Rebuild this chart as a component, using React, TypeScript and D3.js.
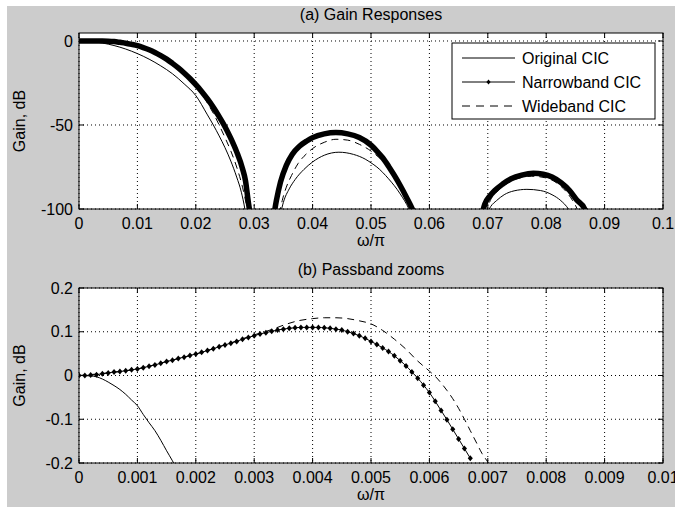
import React from "react";
import * as d3 from "d3";

// ---------- Data ----------
// Top plot: gain responses, x = ω/π, y = dB
const origMain: [number, number][] = [
  [0, 0], [0.002, -0.3], [0.004, -1.2], [0.006, -2.7], [0.008, -4.8], [0.01, -7.5],
  [0.012, -10.8], [0.014, -14.8], [0.016, -19.5], [0.018, -25.5], [0.02, -32.5],
  [0.022, -44], [0.023, -50], [0.024, -56.5], [0.025, -63.5], [0.026, -71.5],
  [0.027, -81], [0.0278, -90], [0.0284, -100], [0.029, -115],
];
const origLobe2: [number, number][] = [
  [0.0345, -103], [0.035, -96], [0.036, -88], [0.037, -82.5], [0.0385, -76.5],
  [0.04, -72], [0.042, -68], [0.0445, -66.2], [0.047, -67.5], [0.049, -70.3],
  [0.05, -72.5], [0.051, -75], [0.053, -82], [0.055, -91], [0.0565, -100], [0.057, -104],
];
const origLobe3: [number, number][] = [
  [0.0698, -103], [0.0705, -98.5], [0.0715, -95], [0.0728, -91.5], [0.0745, -89.2],
  [0.0767, -88.3], [0.079, -89], [0.081, -91.5], [0.0825, -95], [0.0838, -100], [0.0843, -103],
];
const narrowMain: [number, number][] = [
  [0, 0], [0.002, 0], [0.004, 0], [0.005, -0.1], [0.006, -0.35], [0.007, -0.8],
  [0.008, -1.3], [0.009, -2], [0.01, -2.8], [0.011, -3.9], [0.012, -5.2], [0.013, -6.8],
  [0.014, -8.7], [0.015, -10.8], [0.016, -13.3], [0.017, -16], [0.018, -19],
  [0.019, -22.3], [0.02, -26], [0.021, -30], [0.022, -34.5], [0.023, -39.5],
  [0.024, -45], [0.025, -51], [0.026, -58], [0.027, -66], [0.028, -76], [0.0285, -83],
  [0.029, -96], [0.0293, -103],
];
const narrowLobe2: [number, number][] = [
  [0.0334, -103], [0.0338, -95], [0.0345, -84], [0.0355, -74], [0.0365, -67.5],
  [0.0378, -62.5], [0.039, -59.5], [0.04, -57.5], [0.042, -55.3], [0.044, -54.5],
  [0.046, -55.3], [0.048, -57.5], [0.05, -62], [0.051, -65.5], [0.052, -69.5],
  [0.053, -74.5], [0.054, -80], [0.055, -86], [0.056, -92.5], [0.057, -99.5], [0.0574, -103],
];
const narrowLobe3: [number, number][] = [
  [0.069, -103], [0.0695, -97], [0.0703, -92.5], [0.0712, -89], [0.0725, -85.3],
  [0.074, -82], [0.0758, -79.8], [0.0778, -78.7], [0.0795, -79.3], [0.081, -81],
  [0.0826, -84.5], [0.084, -89], [0.0852, -94.5], [0.0866, -100], [0.087, -104],
];
const wideMain: [number, number][] = [
  [0, 0], [0.004, -0.4], [0.006, -1], [0.008, -2], [0.01, -3.7], [0.012, -6.2],
  [0.014, -9.5], [0.016, -14], [0.018, -19.5], [0.02, -26.5], [0.022, -37],
  [0.023, -43], [0.024, -50], [0.025, -57.5], [0.026, -65.5], [0.027, -75],
  [0.028, -87], [0.0288, -100], [0.0293, -110],
];
const wideLobe2: [number, number][] = [
  [0.0343, -103], [0.0348, -95], [0.0355, -87], [0.0364, -80], [0.0375, -73],
  [0.039, -67], [0.04, -64], [0.042, -60.3], [0.044, -58.5], [0.046, -59],
  [0.048, -61.5], [0.05, -65.5], [0.052, -71.5], [0.054, -80], [0.056, -92],
  [0.0568, -100], [0.0572, -104],
];
const wideLobe3: [number, number][] = [
  [0.0697, -103], [0.0703, -96], [0.0715, -90], [0.073, -85.5], [0.075, -82],
  [0.0775, -80.5], [0.08, -81.5], [0.082, -85], [0.0835, -90], [0.0847, -96],
  [0.0853, -100], [0.0857, -104],
];

// Bottom plot: passband zoom
const zoomOrig: [number, number][] = [
  [0, 0], [0.0002, -0.001], [0.0003, -0.003], [0.0004, -0.008], [0.0005, -0.015],
  [0.0006, -0.023], [0.0007, -0.032], [0.0008, -0.043], [0.0009, -0.056], [0.001, -0.069],
  [0.0011, -0.089], [0.0012, -0.108], [0.0013, -0.126], [0.0014, -0.148],
  [0.0015, -0.172], [0.0016, -0.195], [0.0017, -0.22],
];
const zoomNarrowX: number[] = d3.range(0, 68).map((i) => i / 10000);
const zoomNarrowY: number[] = [
  0.0, 0.0, 0.001, 0.002, 0.004, 0.006, 0.008, 0.009, 0.011, 0.013,
  0.015, 0.018, 0.021, 0.024, 0.028, 0.032, 0.035, 0.039, 0.042, 0.046,
  0.049, 0.053, 0.057, 0.061, 0.066, 0.07, 0.074, 0.078, 0.083, 0.087,
  0.091, 0.095, 0.098, 0.101, 0.104, 0.106, 0.108, 0.109, 0.11, 0.11,
  0.11, 0.11, 0.109, 0.108, 0.106, 0.104, 0.1, 0.096, 0.091, 0.085,
  0.078, 0.071, 0.063, 0.055, 0.045, 0.034, 0.022, 0.008, -0.006, -0.022,
  -0.039, -0.059, -0.08, -0.101, -0.123, -0.145, -0.167, -0.189,
];
const zoomWide: [number, number][] = [
  [0, 0], [0.0005, 0.006], [0.001, 0.015], [0.0015, 0.032], [0.002, 0.049],
  [0.0025, 0.07], [0.003, 0.093], [0.0033, 0.105], [0.0035, 0.115], [0.00375, 0.125],
  [0.004, 0.13], [0.0042, 0.132], [0.0044, 0.132], [0.0046, 0.13], [0.0048, 0.125],
  [0.005, 0.118], [0.0052, 0.103], [0.0054, 0.083], [0.0056, 0.06], [0.0058, 0.033],
  [0.006, 0.01], [0.0061, -0.002], [0.0062, -0.017], [0.0063, -0.034], [0.0064, -0.053],
  [0.0065, -0.075], [0.0066, -0.1], [0.0067, -0.126], [0.0068, -0.152], [0.0069, -0.178],
  [0.007, -0.198], [0.00705, -0.21],
];

const topXTicks = [0, 0.01, 0.02, 0.03, 0.04, 0.05, 0.06, 0.07, 0.08, 0.09, 0.1];
const topXLabels = ["0", "0.01", "0.02", "0.03", "0.04", "0.05", "0.06", "0.07", "0.08", "0.09", "0.1"];
const topYTicks = [0, -50, -100];
const topYLabels = ["0", "-50", "-100"];
const botXTicks = [0, 0.001, 0.002, 0.003, 0.004, 0.005, 0.006, 0.007, 0.008, 0.009, 0.01];
const botXLabels = ["0", "0.001", "0.002", "0.003", "0.004", "0.005", "0.006", "0.007", "0.008", "0.009", "0.01"];
const botYTicks = [0.2, 0.1, 0, -0.1, -0.2];
const botYLabels = ["0.2", "0.1", "0", "-0.1", "-0.2"];
const legendLabels = ["Original CIC", "Narrowband CIC", "Wideband CIC"];

// ---------- Layout ----------
const W = 675;
const H = 507;
const FONT = "'Liberation Sans', Arial, Helvetica, sans-serif";
const FS = 16;
const BG = "#cccccc";

const topBox = { x0: 79, x1: 663, y0: 33, y1: 209 };
const botBox = { x0: 79, x1: 663, y0: 288, y1: 463 };

const xTop = d3.scaleLinear().domain([0, 0.1]).range([topBox.x0, topBox.x1]);
const yTop = d3.scaleLinear().domain([-100, 4.76]).range([topBox.y1, topBox.y0]);
const xBot = d3.scaleLinear().domain([0, 0.01]).range([botBox.x0, botBox.x1]);
const yBot = d3.scaleLinear().domain([-0.2, 0.2]).range([botBox.y1, botBox.y0]);

function Axes(props: {
  box: { x0: number; x1: number; y0: number; y1: number };
  xs: d3.ScaleLinear<number, number>;
  ys: d3.ScaleLinear<number, number>;
  xt: number[];
  xl: string[];
  yt: number[];
  yl: string[];
  title: string;
  clipId: string;
  children?: React.ReactNode;
}) {
  const { box, xs, ys, xt, xl, yt, yl, title, clipId } = props;
  const tl = 5;
  return (
    <g>
      <defs>
        <clipPath id={clipId}>
          <rect x={box.x0} y={box.y0} width={box.x1 - box.x0} height={box.y1 - box.y0} />
        </clipPath>
      </defs>
      <rect x={box.x0} y={box.y0} width={box.x1 - box.x0} height={box.y1 - box.y0} fill="#fff" />
      {xt.map((t, i) => (
        <line key={"gx" + i} x1={xs(t)} x2={xs(t)} y1={box.y0} y2={box.y1}
          stroke="#000" strokeWidth={1} strokeDasharray="1,3" />
      ))}
      {yt.map((t, i) => (
        <line key={"gy" + i} x1={box.x0} x2={box.x1} y1={ys(t)} y2={ys(t)}
          stroke="#000" strokeWidth={1} strokeDasharray="1,3" />
      ))}
      <g clipPath={`url(#${clipId})`}>{props.children}</g>
      {xt.map((t, i) => (
        <g key={"tx" + i}>
          <line x1={xs(t)} x2={xs(t)} y1={box.y1} y2={box.y1 - tl} stroke="#000" />
          <line x1={xs(t)} x2={xs(t)} y1={box.y0} y2={box.y0 + tl} stroke="#000" />
          <text x={xs(t)} y={box.y1 + 20} textAnchor="middle" fontSize={FS} fontFamily={FONT}>{xl[i]}</text>
        </g>
      ))}
      {yt.map((t, i) => (
        <g key={"ty" + i}>
          <line x1={box.x0} x2={box.x0 + tl} y1={ys(t)} y2={ys(t)} stroke="#000" />
          <line x1={box.x1} x2={box.x1 - tl} y1={ys(t)} y2={ys(t)} stroke="#000" />
          <text x={box.x0 - 6} y={ys(t)} dy="0.35em" textAnchor="end" fontSize={FS} fontFamily={FONT}>{yl[i]}</text>
        </g>
      ))}
      <rect x={box.x0} y={box.y0} width={box.x1 - box.x0} height={box.y1 - box.y0}
        fill="none" stroke="#000" strokeWidth={1} />
      <text x={(box.x0 + box.x1) / 2} y={box.y0 - 13} textAnchor="middle" fontSize={FS} fontFamily={FONT}>{title}</text>
      <text x={(box.x0 + box.x1) / 2} y={box.y1 + 37} textAnchor="middle" fontSize={FS} fontFamily={FONT}>ω/π</text>
      <text transform={`translate(19,${(box.y0 + box.y1) / 2}) rotate(-90)`} dy="0.35em"
        textAnchor="middle" fontSize={FS} fontFamily={FONT}>Gain, dB</text>
    </g>
  );
}

const diamond = (cx: number, cy: number, r: number) =>
  `M${cx},${cy - r}L${cx + r * 0.85},${cy}L${cx},${cy + r}L${cx - r * 0.85},${cy}Z`;

export default function App() {
  const lineTop = d3.line<[number, number]>().x((d) => xTop(d[0])).y((d) => yTop(d[1])).curve(d3.curveMonotoneX);
  const lineBot = d3.line<[number, number]>().x((d) => xBot(d[0])).y((d) => yBot(d[1])).curve(d3.curveMonotoneX);
  const narrowZoom: [number, number][] = zoomNarrowX.map((x, i) => [x, zoomNarrowY[i]]);

  const lg = { x0: 452, x1: 655, y0: 43, y1: 119 };
  const rowY = [58, 82, 106];

  return (
    <svg width={W} height={H} style={{ position: "fixed", left: 0, top: 0 }} xmlns="http://www.w3.org/2000/svg">
      <rect x={0} y={0} width={W} height={H} fill="#fff" />
      <rect x={7} y={6} width={W - 7} height={H - 6} fill={BG} />

      <Axes box={topBox} xs={xTop} ys={yTop} xt={topXTicks} xl={topXLabels} yt={topYTicks} yl={topYLabels}
        title="(a) Gain Responses" clipId="clipTop">
        {[origMain, origLobe2, origLobe3].map((d, i) => (
          <path key={"o" + i} d={lineTop(d) || ""} fill="none" stroke="#000" strokeWidth={1} />
        ))}
        {[wideMain, wideLobe2, wideLobe3].map((d, i) => (
          <path key={"w" + i} d={lineTop(d) || ""} fill="none" stroke="#000" strokeWidth={1} strokeDasharray="7,5" />
        ))}
        {[narrowMain, narrowLobe2, narrowLobe3].map((d, i) => (
          <path key={"n" + i} d={lineTop(d) || ""} fill="none" stroke="#000" strokeWidth={5.5} strokeLinecap="round" />
        ))}
      </Axes>

      <rect x={lg.x0} y={lg.y0} width={lg.x1 - lg.x0} height={lg.y1 - lg.y0} fill="#fff" stroke="#000" />
      <line x1={462} x2={515} y1={rowY[0]} y2={rowY[0]} stroke="#000" />
      <line x1={462} x2={515} y1={rowY[1]} y2={rowY[1]} stroke="#000" />
      <path d={diamond(488.5, rowY[1], 2.5)} fill="#000" />
      <line x1={462} x2={515} y1={rowY[2]} y2={rowY[2]} stroke="#000" strokeDasharray="8,6" />
      {legendLabels.map((l, i) => (
        <text key={l} x={522} y={rowY[i]} dy="0.35em" fontSize={FS} fontFamily={FONT}>{l}</text>
      ))}

      <Axes box={botBox} xs={xBot} ys={yBot} xt={botXTicks} xl={botXLabels} yt={botYTicks} yl={botYLabels}
        title="(b) Passband zooms" clipId="clipBot">
        <path d={lineBot(zoomOrig) || ""} fill="none" stroke="#000" strokeWidth={1} />
        <path d={lineBot(zoomWide) || ""} fill="none" stroke="#000" strokeWidth={1} strokeDasharray="7,5" />
        <path d={lineBot(narrowZoom) || ""} fill="none" stroke="#000" strokeWidth={1} />
        {narrowZoom.map((d, i) => (
          <path key={"m" + i} d={diamond(xBot(d[0]), yBot(d[1]), 3)} fill="#000" />
        ))}
      </Axes>
    </svg>
  );
}
